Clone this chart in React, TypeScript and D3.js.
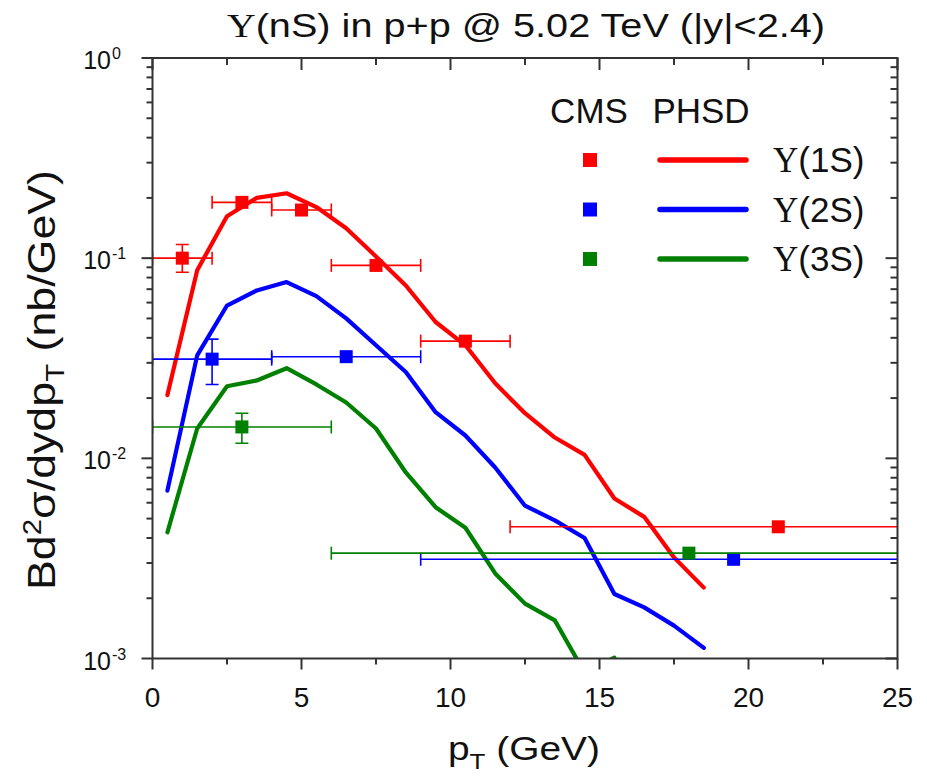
import React from "react";
import * as d3 from "d3";

const W = 927;
const H = 776;

// PHSD curves (pT bin centers)
const phsdPt1 = [0.5, 1.5, 2.5, 3.5, 4.5, 5.5, 6.5, 7.5, 8.5, 9.5, 10.5, 11.5, 12.5, 13.5, 14.5, 15.5, 16.5, 17.5, 18.5];
const phsd1S = [0.0207, 0.087, 0.162, 0.2, 0.211, 0.18, 0.141, 0.102, 0.073, 0.048, 0.0367, 0.0237, 0.0168, 0.0127, 0.0104, 0.0063, 0.0051, 0.0032, 0.00226];
const phsd2S = [0.0069, 0.0327, 0.058, 0.069, 0.076, 0.0646, 0.05, 0.0367, 0.027, 0.017, 0.013, 0.009, 0.0058, 0.0049, 0.004, 0.0021, 0.0018, 0.00146, 0.00113];
const phsdPt3 = [0.5, 1.5, 2.5, 3.5, 4.5, 5.5, 6.5, 7.5, 8.5, 9.5, 10.5, 11.5, 12.5, 13.5, 14.5, 15.5];
const phsd3S = [0.00427, 0.0141, 0.0229, 0.0245, 0.0282, 0.0234, 0.019, 0.0141, 0.0085, 0.0057, 0.0045, 0.00266, 0.00188, 0.00155, 0.00085, 0.00101];

// CMS data
const cms1SPt = [1, 3, 5, 7.5, 10.5, 21];
const cms1SVal = [0.1, 0.19, 0.174, 0.092, 0.0385, 0.00455];
const cms1SLo = [0, 2, 4, 6, 9, 12];
const cms1SHi = [2, 4, 6, 9, 12, 30];
const cms1SErrLo = [0.085, 0.19, 0.174, 0.092, 0.0385, 0.00455];
const cms1SErrHi = [0.117, 0.19, 0.174, 0.092, 0.0385, 0.00455];

const cms2SPt = [2, 6.5, 19.5];
const cms2SVal = [0.0313, 0.0322, 0.00313];
const cms2SLo = [0, 4, 9];
const cms2SHi = [4, 9, 30];
const cms2SErrLo = [0.0234, 0.0322, 0.00313];
const cms2SErrHi = [0.0394, 0.0322, 0.00313];

const cms3SPt = [3, 18];
const cms3SVal = [0.01435, 0.00336];
const cms3SLo = [0, 6];
const cms3SHi = [6, 30];
const cms3SErrLo = [0.0119, 0.00336];
const cms3SErrHi = [0.0168, 0.00336];

const xMajorTicks = [0, 5, 10, 15, 20, 25];
const xMinorTicks = [2.5, 7.5, 12.5, 17.5, 22.5];
const yDecades = [1, 0.1, 0.01, 0.001];
const yDecadeLabels = ["0", "-1", "-2", "-3"];
const legendNames = ["1S", "2S", "3S"];

const RED = "#ff0000";
const BLUE = "#0000ff";
const GREEN = "#008000";

const series = [
  { color: RED, pt: phsdPt1, phsd: phsd1S, cx: cms1SPt, cv: cms1SVal, lo: cms1SLo, hi: cms1SHi, el: cms1SErrLo, eh: cms1SErrHi },
  { color: BLUE, pt: phsdPt1, phsd: phsd2S, cx: cms2SPt, cv: cms2SVal, lo: cms2SLo, hi: cms2SHi, el: cms2SErrLo, eh: cms2SErrHi },
  { color: GREEN, pt: phsdPt3, phsd: phsd3S, cx: cms3SPt, cv: cms3SVal, lo: cms3SLo, hi: cms3SHi, el: cms3SErrLo, eh: cms3SErrHi },
];

export default function App() {
  const left = 152.5, right = 897.5, top = 58, bottom = 658.5;
  const x = d3.scaleLinear().domain([0, 25]).range([left, right]);
  const y = d3.scaleLog().domain([0.001, 1]).range([bottom, top]);
  const line = d3.line<number>().x((d: any) => d[0]).y((d: any) => d[1]);

  const minorY: number[] = [];
  for (const dec of [0.1, 0.01, 0.001]) {
    for (let k = 2; k <= 9; k++) minorY.push(dec * k);
  }

  const sans = "'Liberation Sans', Arial, sans-serif";
  const serif = "'Liberation Serif', 'Times New Roman', serif";
  const axisColor = "#333";
  const ms = 13;

  return (
    <svg width={W} height={H} style={{ position: "absolute", left: 0, top: 0, background: "#fff" }}>
      <defs>
        <clipPath id="plotClip">
          <rect x={left} y={top} width={right - left} height={bottom - top} />
        </clipPath>
      </defs>
      <rect x={0} y={0} width={W} height={H} fill="#fff" />

      {/* Title */}
      <text x={526} y={37} textAnchor="middle" fontFamily={sans} fontSize={34} fill="#111" textLength={598} lengthAdjust="spacingAndGlyphs">
        <tspan fontFamily={serif}>Υ</tspan>(nS) in p+p @ 5.02 TeV (|y|&lt;2.4)
      </text>

      {/* Data */}
      <g clipPath="url(#plotClip)">
        {series.map((s, si) => (
          <g key={"l" + si}>
            <path
              d={line(s.pt.map((p, i) => [x(p), y(s.phsd[i])]) as any) || ""}
              fill="none"
              stroke={s.color}
              strokeWidth={4.2}
              strokeLinejoin="round"
              strokeLinecap="round"
            />
          </g>
        ))}
        {series.map((s, si) => (
          <g key={"d" + si} stroke={s.color} strokeWidth={1.6} fill={s.color}>
            {s.cx.map((p, i) => {
              const cy = y(s.cv[i]);
              const x0 = x(s.lo[i]);
              const x1 = x(s.hi[i]);
              const ylo = y(s.el[i]);
              const yhi = y(s.eh[i]);
              return (
                <g key={i}>
                  <line x1={x0} x2={x1} y1={cy} y2={cy} />
                  <line x1={x0} x2={x0} y1={cy - 6.5} y2={cy + 6.5} />
                  <line x1={x1} x2={x1} y1={cy - 6.5} y2={cy + 6.5} />
                  {ylo !== yhi && (
                    <g>
                      <line x1={x(p)} x2={x(p)} y1={ylo} y2={yhi} />
                      <line x1={x(p) - 6.5} x2={x(p) + 6.5} y1={ylo} y2={ylo} />
                      <line x1={x(p) - 6.5} x2={x(p) + 6.5} y1={yhi} y2={yhi} />
                    </g>
                  )}
                  <rect x={x(p) - ms / 2} y={cy - ms / 2} width={ms} height={ms} stroke="none" />
                </g>
              );
            })}
          </g>
        ))}
      </g>

      {/* Frame */}
      <rect x={left} y={top} width={right - left} height={bottom - top} fill="none" stroke={axisColor} strokeWidth={2} />

      {/* Ticks */}
      <g stroke={axisColor} strokeWidth={2}>
        {xMajorTicks.map((t) => (
          <g key={"xm" + t}>
            <line x1={x(t)} x2={x(t)} y1={bottom} y2={bottom + 11} />
            <line x1={x(t)} x2={x(t)} y1={top} y2={top + 12} />
          </g>
        ))}
        {xMinorTicks.map((t) => (
          <g key={"xn" + t}>
            <line x1={x(t)} x2={x(t)} y1={bottom} y2={bottom + 6} />
            <line x1={x(t)} x2={x(t)} y1={top} y2={top + 7} />
          </g>
        ))}
        {yDecades.map((t) => (
          <g key={"ym" + t}>
            <line x1={left} x2={left - 11} y1={y(t)} y2={y(t)} />
            <line x1={right} x2={right - 12} y1={y(t)} y2={y(t)} />
          </g>
        ))}
        {minorY.map((t, i) => (
          <g key={"yn" + i}>
            <line x1={left} x2={left - 6} y1={y(t)} y2={y(t)} />
            <line x1={right} x2={right - 7} y1={y(t)} y2={y(t)} />
          </g>
        ))}
      </g>

      {/* X tick labels */}
      {xMajorTicks.map((t) => (
        <text key={"xl" + t} x={x(t)} y={707} textAnchor="middle" fontFamily={sans} fontSize={28} fill="#111">
          {t}
        </text>
      ))}

      {/* Y tick labels */}
      {yDecades.map((t, i) => (
        <g key={"yl" + t} fontFamily={sans} fill="#111">
          <text x={111} y={y(t) + 11} textAnchor="end" fontSize={25}>10</text>
          <text x={112} y={y(t) + 1} textAnchor="start" fontSize={16}>{yDecadeLabels[i]}</text>
        </g>
      ))}

      {/* Axis titles */}
      <text x={524} y={760} textAnchor="middle" fontFamily={sans} fontSize={33} fill="#111" textLength={152} lengthAdjust="spacingAndGlyphs">
        p<tspan fontSize={22} dy={9}>T</tspan>
        <tspan dy={-9}> (GeV)</tspan>
      </text>
      <text
        transform="translate(55,380) rotate(-90)"
        textAnchor="middle"
        fontFamily={sans}
        fontSize={38}
        fill="#111"
        textLength={420}
        lengthAdjust="spacingAndGlyphs"
      >
        Bd<tspan fontSize={25} dy={-14}>2</tspan>
        <tspan dy={14}>σ/dydp</tspan>
        <tspan fontSize={25} dy={9}>T</tspan>
        <tspan dy={-9}> (nb/GeV)</tspan>
      </text>

      {/* Legend */}
      <text x={589} y={123} textAnchor="middle" fontFamily={sans} fontSize={35} fill="#111">CMS</text>
      <text x={701} y={123} textAnchor="middle" fontFamily={sans} fontSize={35} fill="#111">PHSD</text>
      {series.map((s, i) => {
        const ly = 160 + i * 49.5;
        return (
          <g key={"lg" + i}>
            <rect x={590 - 7} y={ly - 7} width={14} height={14} fill={s.color} />
            <line x1={660} x2={746} y1={ly} y2={ly} stroke={s.color} strokeWidth={5.5} strokeLinecap="round" />
            <text x={773} y={ly + 12} fontFamily={sans} fontSize={35} fill="#111">
              <tspan fontFamily={serif}>Υ</tspan>({legendNames[i]})
            </text>
          </g>
        );
      })}
    </svg>
  );
}
